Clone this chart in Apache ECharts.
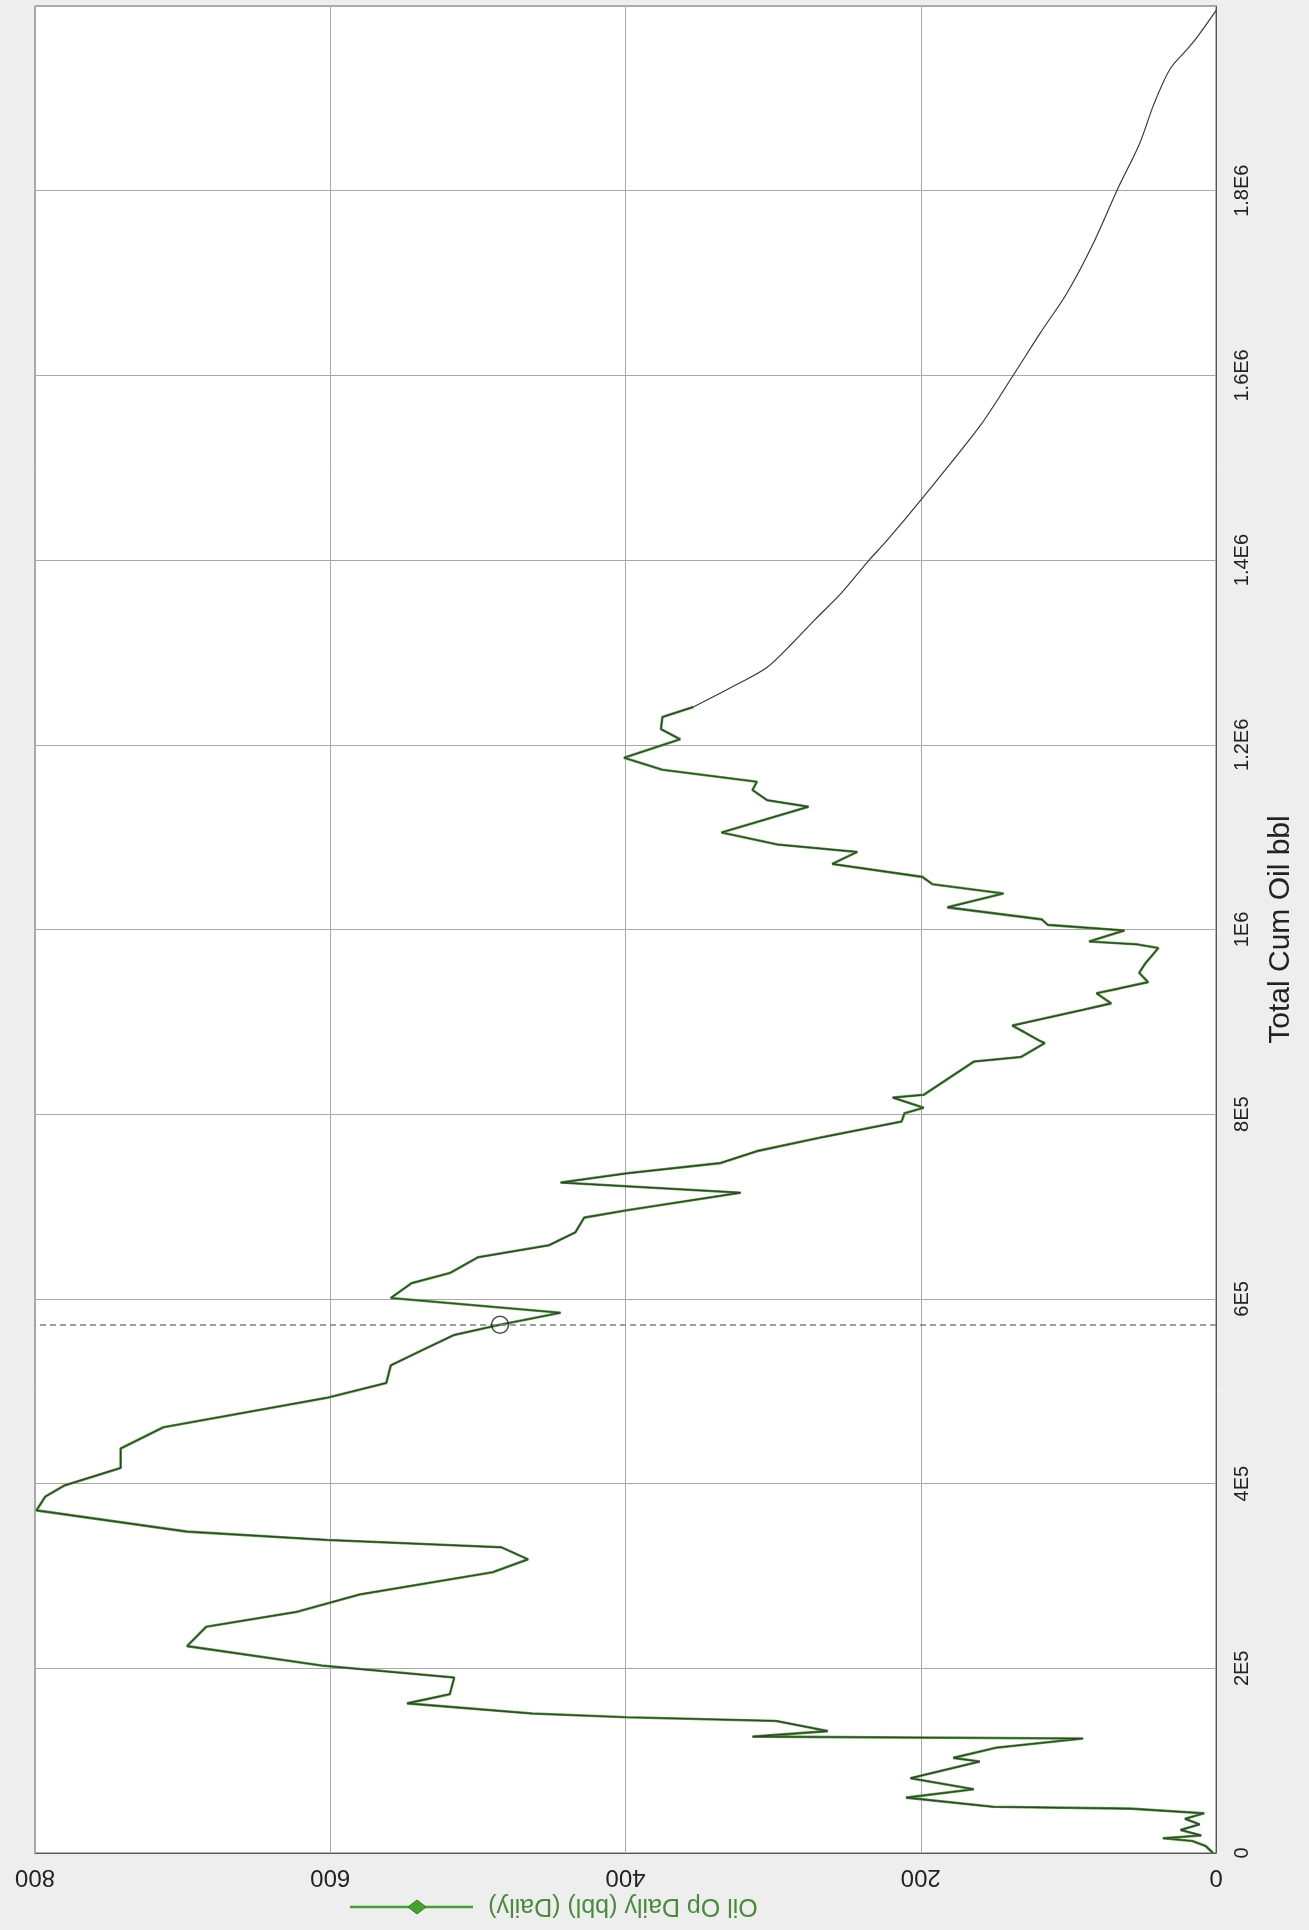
<!DOCTYPE html>
<html>
<head>
<meta charset="utf-8">
<title>Oil Op Daily vs Total Cum Oil</title>
<script src="https://cdn.jsdelivr.net/npm/echarts@6/dist/echarts.min.js"></script>
<style>
  html, body { margin: 0; padding: 0; background: #eeeeee; }
  #chart { width: 1309px; height: 1930px; }
</style>
</head>
<body>
<div id="chart"></div>
<script>
// Produced history: cumulative oil (bbl) and daily oil rate (bbl/d)
const histCum = [
  0, 7600, 13000, 16000, 19000, 25000, 31000, 37000, 43000, 48000,
  50000, 60000, 69000, 81000, 99000, 103000, 114000, 124000, 126000, 132000,
  143000, 147000, 151000, 162000, 172000, 190000, 203000, 224000, 245000, 261000,
  280000, 304000, 318000, 331000, 339000, 348000, 371000, 386000, 398000, 417000,
  438000, 461000, 493000, 509000, 528000, 545000, 561000, 572000, 585000, 601000,
  617000, 628000, 645000, 658000, 672000, 688000, 696000, 715000, 726000, 736000,
  747000, 760000, 775000, 792000, 801000, 807000, 818000, 821000, 857000, 862000,
  877000, 880000, 889000, 896000, 913000, 920000, 931000, 936000, 943000, 953000,
  963000, 980000, 984000, 987000, 999000, 1005000, 1011000, 1024000, 1039000, 1049000,
  1057000, 1071000, 1084000, 1092000, 1105000, 1133000, 1140000, 1151000, 1160000, 1173000,
  1186000, 1206000, 1217000, 1230000, 1241000
];
const histRate = [
  2, 7, 16, 36, 10, 24, 11, 21, 8, 58,
  151, 210, 164, 207, 160, 178, 149, 90, 314, 263,
  298, 399, 463, 548, 519, 516, 606, 697, 684, 623,
  580, 490, 466, 484, 602, 697, 799, 793, 780, 742,
  742, 713, 602, 562, 559, 537, 516, 485, 444, 559,
  545, 519, 500, 452, 434, 428, 399, 322, 444, 399,
  336, 311, 267, 213, 211, 198, 219, 198, 164, 132,
  116, 120, 130, 138, 90, 71, 81, 66, 46, 52,
  48, 39, 54, 86, 62, 114, 118, 182, 144, 192,
  199, 260, 243, 297, 335, 276, 304, 314, 311, 375,
  401, 363, 376, 375, 354
];

// Decline forecast continuing from the last history point
const fcCum = [
  1265000, 1284000, 1310000, 1335000, 1364000, 1400000, 1421000, 1465000, 1545000, 1601000,
  1646000, 1689000, 1740000, 1804000, 1850000, 1894000, 1932000, 1954000, 1968000, 1995000
];
const fcRate = [
  325, 304, 287, 272, 254, 235, 223, 200, 160, 137,
  119, 101, 84, 66, 52, 42, 31, 19, 12, 0
];

// Selected point on the curve, marked with a circle and a dashed guide
const markerCum = 572000;
const markerRate = 485;

// Axis ticks
const rateTicks = [0, 200, 400, 600, 800];
const cumTicks = [0, 200000, 400000, 600000, 800000, 1000000, 1200000, 1400000, 1600000, 1800000, 2000000];

const FONT = 'Liberation Sans, Arial, sans-serif';
const GREEN = '#45a22e';

function cumLabel(v) {
  if (v === 0) return '0';
  const e = Math.floor(Math.log10(v) + 1e-9);
  const m = parseFloat((v / Math.pow(10, e)).toFixed(3));
  return m + 'E' + e;
}

const histPairs = histCum.map((c, i) => [histRate[i], c]);
const lastHist = histPairs[histPairs.length - 1];
const fcPairs = [lastHist].concat(fcCum.map((c, i) => [fcRate[i], c]));

const GRID = { left: 35, right: 93, top: 6, bottom: 77 };

const chart = echarts.init(document.getElementById('chart'), null, { renderer: 'canvas' });

chart.setOption({
  animation: false,
  backgroundColor: '#eeeeee',
  grid: {
    left: GRID.left, right: GRID.right, top: GRID.top, bottom: GRID.bottom,
    show: true,
    backgroundColor: '#ffffff',
    borderColor: '#666666',
    borderWidth: 1
  },
  xAxis: {
    type: 'value',
    position: 'bottom',
    inverse: true,
    min: rateTicks[0],
    max: rateTicks[rateTicks.length - 1],
    interval: rateTicks[1] - rateTicks[0],
    axisLine: { show: true, lineStyle: { color: '#555555', width: 1 } },
    axisTick: { show: false },
    splitLine: { show: true, lineStyle: { color: '#a8a8a8', width: 1 } },
    // tick labels are drawn flipped below the plot (see graphic texts)
    axisLabel: { show: false }
  },
  yAxis: {
    type: 'value',
    position: 'right',
    min: cumTicks[0],
    max: cumTicks[cumTicks.length - 1],
    interval: cumTicks[1] - cumTicks[0],
    axisLine: { show: true, lineStyle: { color: '#555555', width: 1 } },
    axisTick: { show: false },
    splitLine: { show: true, lineStyle: { color: '#a8a8a8', width: 1 } },
    axisLabel: {
      rotate: 90,
      margin: 16,
      fontFamily: FONT,
      fontSize: 20,
      color: '#222222',
      showMaxLabel: false,
      formatter: cumLabel
    },
    name: 'Total Cum Oil bbl',
    nameLocation: 'middle',
    nameRotate: 90,
    nameGap: 50,
    nameTextStyle: { fontFamily: FONT, fontSize: 30, color: '#222222' }
  },
  series: [
    {
      name: 'Oil Op Daily (bbl) (Daily)',
      type: 'line',
      data: histPairs,
      showSymbol: false,
      lineStyle: { color: GREEN, width: 2.6 },
      z: 2
    },
    {
      name: 'Oil Op Daily history trace',
      type: 'line',
      data: histPairs,
      showSymbol: false,
      lineStyle: { color: '#3a3a3a', width: 1.2 },
      z: 3,
      markLine: {
        silent: true,
        symbol: ['none', 'none'],
        label: { show: false },
        lineStyle: { color: '#808080', type: [6, 4], width: 1.6 },
        data: [{ yAxis: markerCum }]
      }
    },
    {
      name: 'Oil Op Daily forecast',
      type: 'line',
      data: fcPairs,
      showSymbol: false,
      smooth: 0.3,
      lineStyle: { color: '#3a3a3a', width: 1.2 },
      z: 3
    },
    {
      name: 'Selected point',
      type: 'scatter',
      data: [[markerRate, markerCum]],
      symbol: 'circle',
      symbolSize: 17,
      itemStyle: { color: 'rgba(0,0,0,0)', borderColor: '#222222', borderWidth: 1.6 },
      z: 5
    }
  ]
});

// Flipped rate tick labels, each one a group turned half a turn at its tick
const bottomY = chart.getHeight() - GRID.bottom;
const tickTexts = rateTicks.map((v) => ({
  type: 'group',
  x: chart.convertToPixel({ xAxisIndex: 0 }, v),
  y: bottomY + 24,
  scaleX: -1,
  scaleY: -1,
  children: [{
    type: 'text',
    x: 0,
    y: 0,
    style: {
      text: String(v),
      fontFamily: FONT,
      fontSize: 24,
      fill: '#222222',
      align: 'center',
      verticalAlign: 'middle'
    }
  }]
}));

// Legend entry, also flipped, under the rate labels
const legendItems = [
  {
    type: 'line',
    shape: { x1: 350, y1: 1907, x2: 473, y2: 1907 },
    style: { stroke: GREEN, lineWidth: 2.5 }
  },
  {
    type: 'polygon',
    shape: { points: [[408, 1907], [417, 1900], [426, 1907], [417, 1914]] },
    style: { fill: GREEN, stroke: '#2f7a1f', lineWidth: 1 }
  },
  {
    type: 'text',
    x: 623,
    y: 1906,
    rotation: Math.PI,
    style: {
      text: 'Oil Op Daily (bbl) (Daily)',
      fontFamily: FONT,
      fontSize: 25,
      fill: '#4a8a3a',
      align: 'center',
      verticalAlign: 'middle'
    }
  }
];

chart.setOption({ graphic: tickTexts.concat(legendItems) });
</script>
</body>
</html>
